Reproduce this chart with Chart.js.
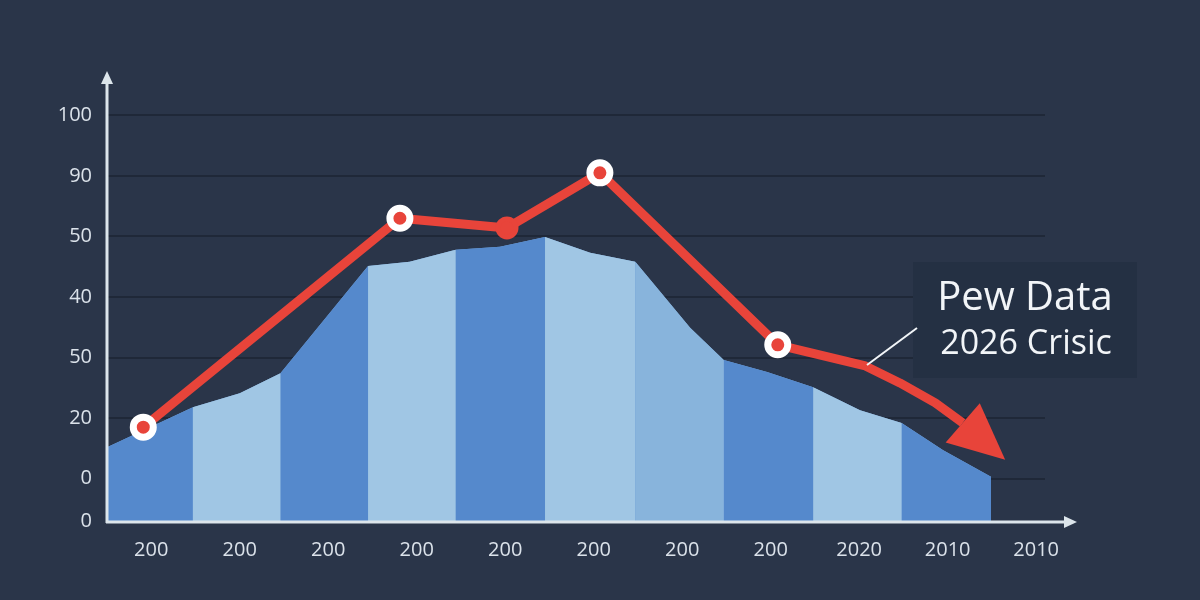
<!DOCTYPE html>
<html>
<head>
<meta charset="utf-8">
<script src="https://cdn.jsdelivr.net/npm/chart.js@4/dist/chart.umd.min.js"></script>
<style>
  html, body { margin: 0; padding: 0; background: #2a3549; }
  #c { display: block; }
</style>
</head>
<body>
<canvas id="c" width="1200" height="600"></canvas>
<script>
// axis labels as printed on the picture
const xLabels = ['200','200','200','200','200','200','200','200','2020','2010','2010'];
const xTickVals = [0.5, 1.5, 2.5, 3.5, 4.5, 5.5, 6.5, 7.5, 8.5, 9.5, 10.5];
const yTickVals = [-7, 0, 10, 20, 30, 40, 50, 60];
const yTickLabels = ['0','0','20','50','40','50','90','100'];

// blue area outline (x in column units, y in grid units)
const areaX = [0, 0.97, 1.5, 1.96, 2.95, 3.42, 3.94, 4.44, 4.95, 5.46, 5.97, 6.21, 6.59, 6.97, 7.46, 7.98, 8.51, 8.98, 9.45, 9.99];
const areaY = [5.2, 11.8, 14.1, 17.4, 35.1, 35.8, 37.8, 38.3, 39.9, 37.3, 35.8, 31.6, 24.9, 19.6, 17.6, 15.1, 11.3, 9.2, 4.7, 0.3];
const bandEdges = [0, 0.97, 1.96, 2.95, 3.94, 4.95, 5.97, 6.97, 7.98, 8.98, 9.99];
const bandColors = ['#5589cc','#a0c6e4','#5589cc','#a0c6e4','#5589cc','#a0c6e4','#88b4dc','#5589cc','#a0c6e4','#5589cc'];

// red trend line, last point is the arrow tip
const lineX = [0.41, 3.31, 4.52, 5.57, 7.58, 8.57, 8.96, 9.36, 9.67, 10.15];
const lineY = [8.5, 43.0, 41.4, 50.5, 22.1, 18.6, 15.8, 12.5, 9.2, 3.1];
const markerKind = ['ring', 'ring', 'dot', 'ring', 'ring'];

const RED = '#e8443a';
const AXIS = '#dce5eb';

// full outline under the bands so their joins don't show dark seams
const baseSet = {
  type: 'line', data: areaX.map((x, k) => ({ x, y: areaY[k] })), fill: 'start',
  backgroundColor: '#7aa7d8', borderWidth: 0, pointRadius: 0, tension: 0, order: 3
};

const bandSets = bandColors.map((col, i) => {
  const pts = [];
  areaX.forEach((x, k) => {
    if (x >= bandEdges[i] - 1e-6 && x <= bandEdges[i + 1] + 1e-6) pts.push({ x, y: areaY[k] });
  });
  return {
    type: 'line', data: pts, fill: 'start', backgroundColor: col,
    borderWidth: 0, pointRadius: 0, tension: 0, order: 2
  };
});

const lastIdx = lineX.length - 1;
const redSet = {
  type: 'line',
  data: lineX.map((x, i) => ({ x, y: lineY[i] })),
  borderColor: RED, borderWidth: 9, borderJoinStyle: 'round', borderCapStyle: 'butt',
  fill: false, tension: 0, order: 0,
  pointRadius: lineX.map((_, i) => markerKind[i] === 'ring' ? 10 : markerKind[i] === 'dot' ? 9 : 0),
  pointBorderWidth: lineX.map((_, i) => markerKind[i] === 'dot' ? 5 : 7),
  pointBackgroundColor: RED,
  pointBorderColor: lineX.map((_, i) => markerKind[i] === 'ring' ? '#ffffff' : RED),
  pointHoverRadius: 0,
  segment: { borderColor: ctx => ctx.p1DataIndex === lastIdx ? 'rgba(0,0,0,0)' : undefined }
};

const decor = {
  id: 'decor',
  beforeDraw(chart) {
    const { ctx, width, height } = chart;
    ctx.save();
    ctx.fillStyle = '#2a3549';
    ctx.fillRect(0, 0, width, height);
    ctx.restore();
  },
  afterDatasetsDraw(chart) {
    const { ctx, chartArea } = chart;
    // arrow head on the red line
    const pts = chart.getDatasetMeta(chart.data.datasets.length - 1).data;
    const tip = pts[lastIdx], base = pts[lastIdx - 1];
    const dx = tip.x - base.x, dy = tip.y - base.y, len = Math.hypot(dx, dy);
    const px = -dy / len, py = dx / len, hw = 26;
    ctx.save();
    ctx.fillStyle = RED;
    ctx.beginPath();
    ctx.moveTo(tip.x, tip.y);
    ctx.lineTo(base.x + px * hw, base.y + py * hw);
    ctx.lineTo(base.x - px * hw, base.y - py * hw);
    ctx.closePath();
    ctx.fill();

    // axes with arrows
    const l = chartArea.left, b = chartArea.bottom + 1;
    ctx.strokeStyle = AXIS; ctx.fillStyle = AXIS; ctx.lineWidth = 3;
    ctx.beginPath();
    ctx.moveTo(l, b + 1); ctx.lineTo(l, chartArea.top + 2);
    ctx.moveTo(l - 1, b); ctx.lineTo(chartArea.right + 22, b);
    ctx.stroke();
    ctx.beginPath();
    ctx.moveTo(l, chartArea.top - 8); ctx.lineTo(l - 6, chartArea.top + 5); ctx.lineTo(l + 6, chartArea.top + 5);
    ctx.closePath(); ctx.fill();
    ctx.beginPath();
    ctx.moveTo(chartArea.right + 32, b); ctx.lineTo(chartArea.right + 19, b - 6); ctx.lineTo(chartArea.right + 19, b + 6);
    ctx.closePath(); ctx.fill();
    ctx.restore();
  },
  afterDraw(chart) {
    const { ctx } = chart;
    ctx.save();
    ctx.fillStyle = '#243043';
    ctx.fillRect(913, 262, 224, 116);
    ctx.strokeStyle = '#f2f5f8'; ctx.lineWidth = 2;
    ctx.beginPath(); ctx.moveTo(867, 365); ctx.lineTo(917, 328); ctx.stroke();
    ctx.fillStyle = '#f2f5f8';
    ctx.textAlign = 'center'; ctx.textBaseline = 'alphabetic';
    ctx.font = '40px "Open Sans"';
    ctx.fillText('Pew Data', 1025, 310);
    ctx.font = '34px "Open Sans"';
    ctx.fillText('2026 Crisic', 1026, 354);
    ctx.restore();
  }
};

new Chart(document.getElementById('c'), {
  type: 'line',
  data: { datasets: [baseSet, ...bandSets, redSet] },
  plugins: [decor],
  options: {
    responsive: false, devicePixelRatio: 1, animation: false,
    layout: { padding: { top: 79, right: 155, left: 0, bottom: 0 } },
    plugins: { legend: { display: false }, tooltip: { enabled: false } },
    scales: {
      x: {
        type: 'linear', min: 0, max: 10.6,
        afterBuildTicks: s => { s.ticks = xTickVals.map(v => ({ value: v })); },
        afterFit: s => { s.height = 79; },
        grid: { display: false, drawTicks: false },
        border: { display: false },
        ticks: {
          autoSkip: false, maxRotation: 0, padding: 17, color: '#dbe2ea',
          font: { family: 'Open Sans', size: 20 },
          callback: (v, i) => xLabels[i]
        }
      },
      y: {
        type: 'linear', min: -7, max: 66,
        afterBuildTicks: s => { s.ticks = yTickVals.map(v => ({ value: v })); },
        afterFit: s => { s.width = 107; },
        grid: {
          drawTicks: false, lineWidth: 2,
          color: c => c.tick && c.tick.value === -7 ? 'rgba(0,0,0,0)' : '#1f2838'
        },
        border: { display: false },
        ticks: {
          autoSkip: false, padding: 15, color: '#dbe2ea',
          font: { family: 'Open Sans', size: 20 },
          callback: (v, i) => yTickLabels[i]
        }
      }
    }
  }
});
</script>
</body>
</html>
